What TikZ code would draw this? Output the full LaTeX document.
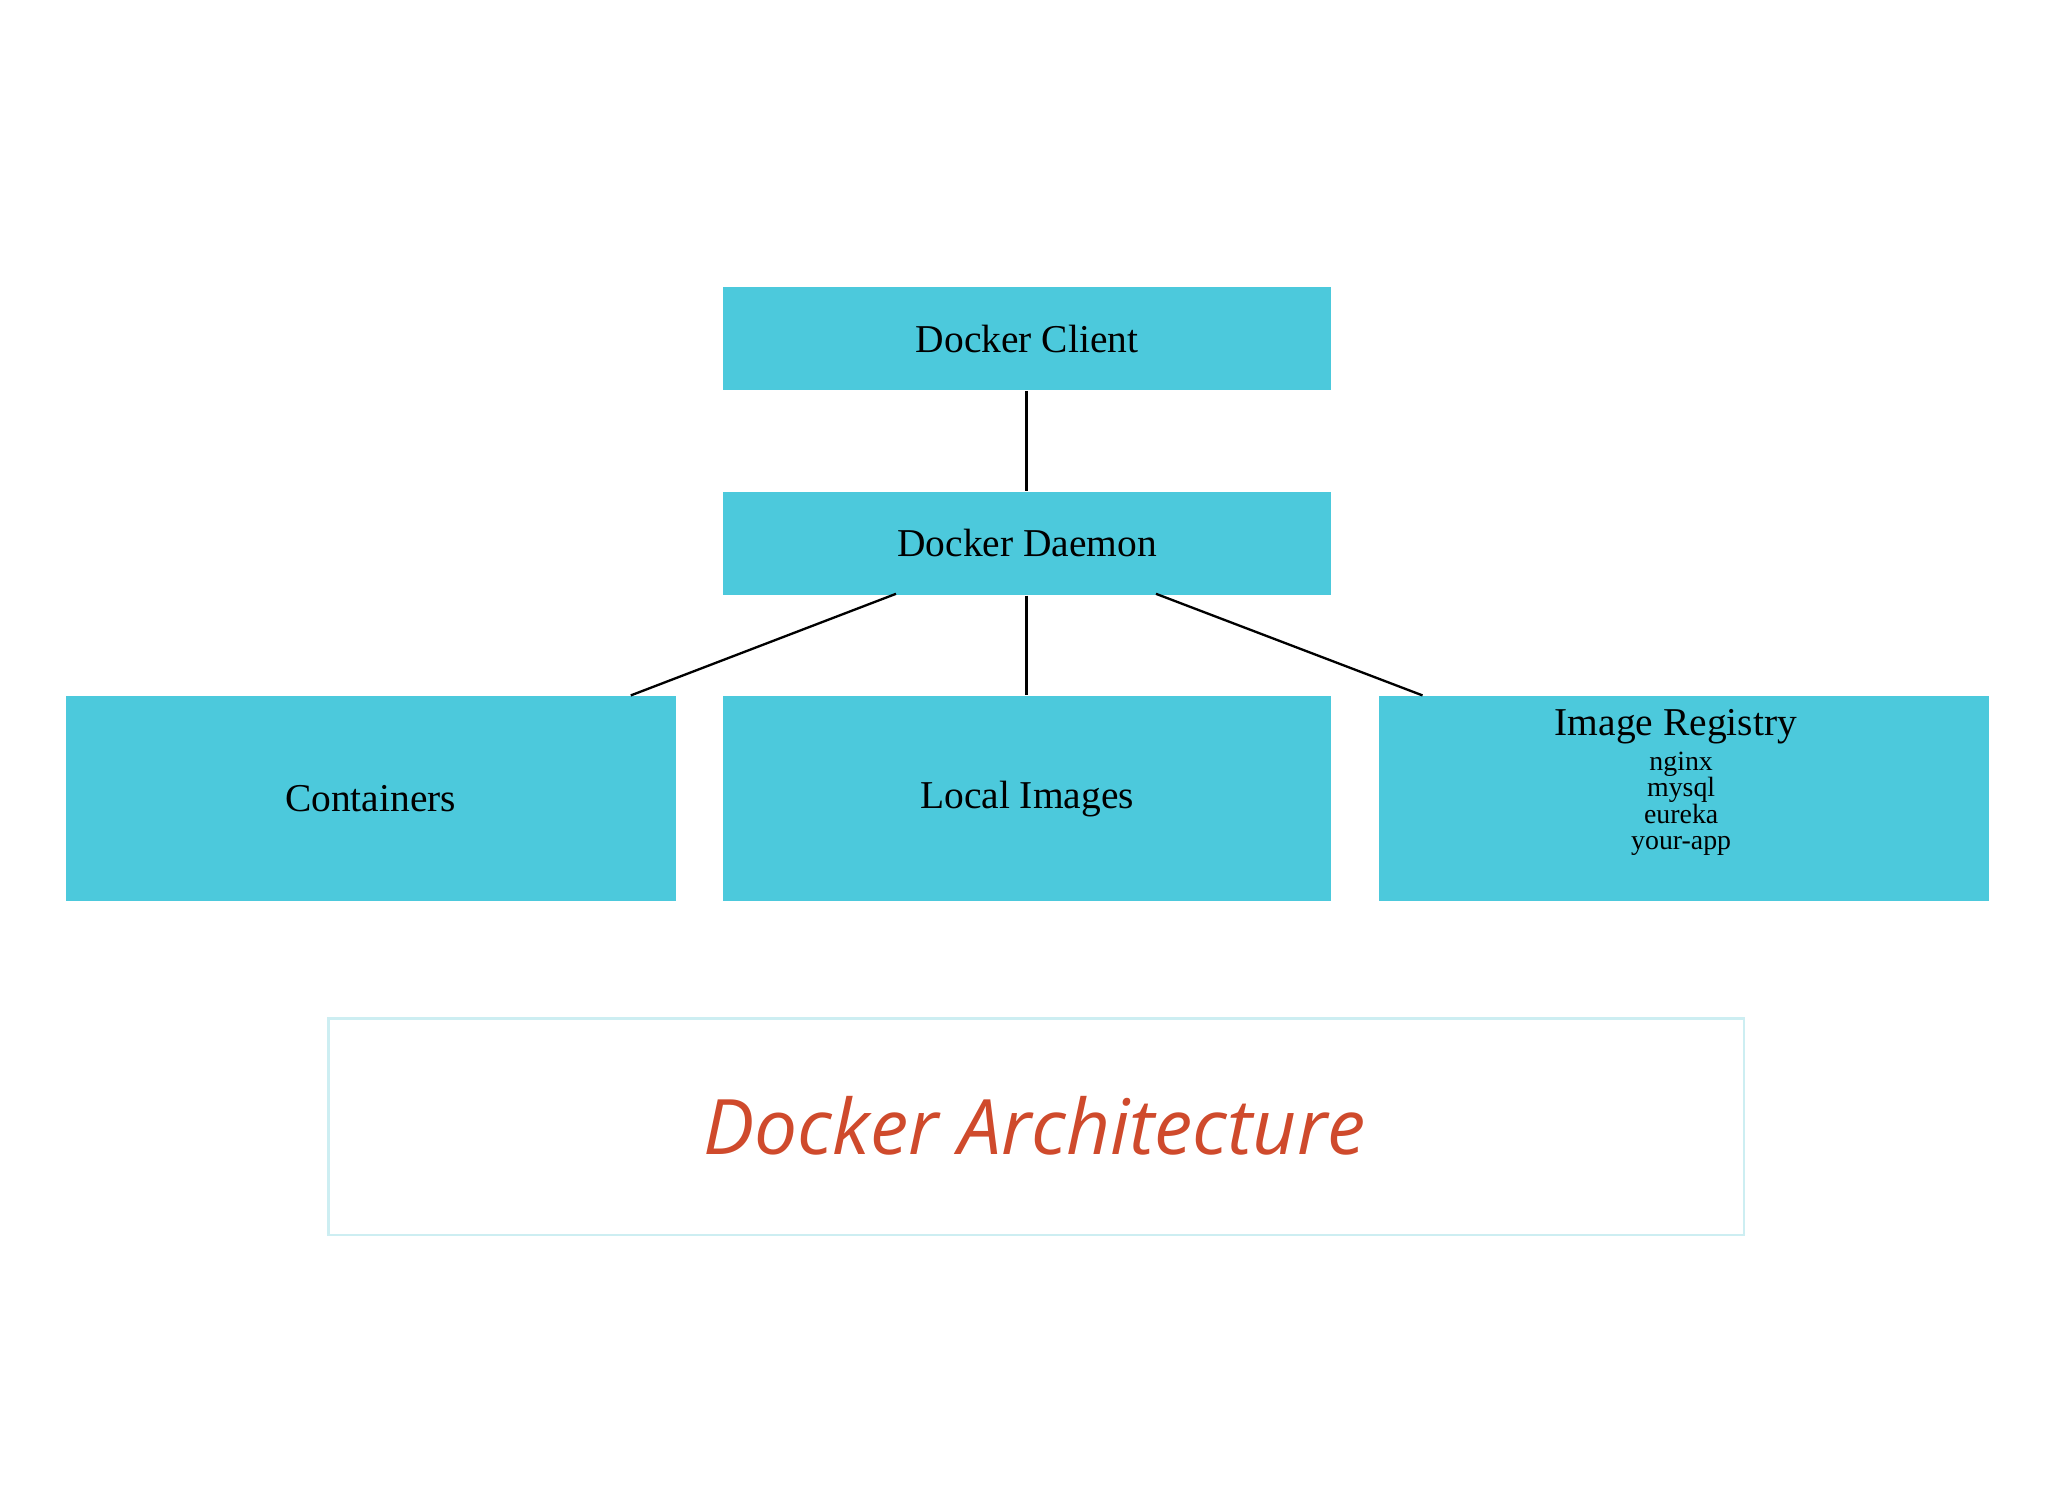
\documentclass[tikz,border=0pt]{standalone}
\usepackage{fontspec}
\setmainfont{Liberation Serif}
\newfontfamily\capfont{Open Sans}
\usetikzlibrary{calc}
\definecolor{boxc}{HTML}{4CC9DC}
\definecolor{capc}{HTML}{CF4A2C}
\definecolor{capb}{HTML}{CDEEF2}
\begin{document}
\begin{tikzpicture}[x=0.01cm,y=-0.01cm,
  box/.style={fill=boxc,draw=none,anchor=north west,inner sep=0pt},
  lbl/.style={font=\fontsize{8.5}{10}\selectfont},
  con/.style={draw=black,line width=0.5pt}]
\useasboundingbox (0,0) rectangle (1552,1131);
\node[box,minimum width=4.61cm,minimum height=0.78cm] (client) at (547,217) {};
\node[lbl] at (client.center) {Docker Client};
\node[box,minimum width=4.61cm,minimum height=0.78cm] (daemon) at (547,372) {};
\node[lbl] at (daemon.center) {Docker Daemon};
\node[box,minimum width=4.62cm,minimum height=1.55cm] (cont) at (49,527) {};
\node[lbl] at (cont.center) {Containers};
\node[box,minimum width=4.61cm,minimum height=1.55cm] (local) at (547,527) {};
\node[lbl] at (local.center) {Local Images};
\node[box,minimum width=4.62cm,minimum height=1.55cm] (reg) at (1044,527) {};
\node[lbl] (regt) at (1270,551) {Image Registry};
\node[font=\fontsize{6}{6}\selectfont,align=center,anchor=north,inner sep=0pt] (regl) at (1274,569) {nginx\\[-0.3pt]mysql\\[-0.3pt]eureka\\[-0.3pt]your-app};
\coordinate (dL) at (679,450);
\coordinate (dR) at (876,450);
\coordinate (cT) at (478,527);
\coordinate (rT) at (1078,527);
\draw[con] (client.south -| 778,0) -- (daemon.north -| 778,0);
\draw[con] (daemon.south -| 778,0) -- (local.north -| 778,0);
\draw[con] (dL) -- (cT);
\draw[con] (dR) -- (rT);
\node[draw=capb,line width=0.5pt,anchor=north west,minimum width=10.72cm,minimum height=1.64cm,inner sep=0pt] (capbox) at (248,771) {};
\node[font=\capfont\itshape\fontsize{16.5}{20}\selectfont,text=capc] (cap) at (784,853) {Docker Architecture};
\end{tikzpicture}
\end{document}
